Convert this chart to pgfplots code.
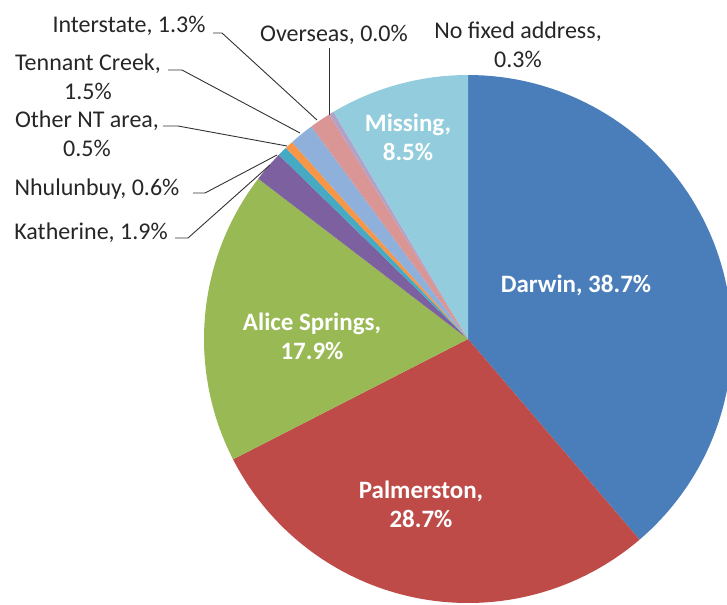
\documentclass[border=0pt]{standalone}
\usepackage{pgfplots}
\pgfplotsset{compat=1.18}
\usepackage{fontspec}
\setmainfont{Carlito}

% slice colours (Office 2007 palette)
\definecolor{cDarwin}{HTML}{4A7EBB}
\definecolor{cPalm}{HTML}{BE4B48}
\definecolor{cAlice}{HTML}{98B954}
\definecolor{cKath}{HTML}{7D60A0}
\definecolor{cNhul}{HTML}{46AAC5}
\definecolor{cOther}{HTML}{F79646}
\definecolor{cTenn}{HTML}{8EB0DB}
\definecolor{cInter}{HTML}{D99694}
\definecolor{cOver}{HTML}{C3D69B}
\definecolor{cNFA}{HTML}{B3A2C7}
\definecolor{cMiss}{HTML}{93CDDD}

\tikzset{
  outlab/.style={font=\fontsize{24bp}{29bp}\selectfont, align=center, inner sep=0pt, text=black!85},
  inlab/.style={font=\bfseries\fontsize{25bp}{29bp}\selectfont, align=center, inner sep=0pt, text=white},
  leader/.style={black!80, line width=0.9bp},
}

% pie geometry, in pixel units of the picture
\def\cx{468}\def\cy{339}\def\rr{264}\def\total{99.9}
\pgfmathsetmacro\kdeg{360/\total}
\xdef\cum{0}
\newcommand\pieslice[2]{% value, colour
  \pgfmathsetmacro\angA{90-\cum*\kdeg}
  \pgfmathsetmacro\angB{90-(\cum+#1)*\kdeg}
  \edef\temp{\noexpand\addplot[draw=none, fill=#2, domain=\angB:\angA, samples=90]
    ({\cx+\rr*cos(x)}, {\cy-\rr*sin(x)}) -- (axis cs:\cx,\cy) -- cycle;}
  \temp
  \pgfmathsetmacro\newcum{\cum+#1}
  \xdef\cum{\newcum}
}

\begin{document}
\begin{tikzpicture}
\begin{axis}[
    width=727bp, height=605bp, scale only axis,
    xmin=0, xmax=727, ymin=0, ymax=605, y dir=reverse,
    hide axis, clip=true,
  ]
  \pieslice{38.7}{cDarwin}
  \pieslice{28.7}{cPalm}
  \pieslice{17.9}{cAlice}
  \pieslice{1.9}{cKath}
  \pieslice{0.6}{cNhul}
  \pieslice{0.5}{cOther}
  \pieslice{1.5}{cTenn}
  \pieslice{1.3}{cInter}
  \pgfmathsetmacro\newcum{\cum+0.0}\xdef\cum{\newcum}% Overseas, 0.0
  \pieslice{0.3}{cNFA}
  \pieslice{8.5}{cMiss}

  % labels inside slices
  \node[inlab] at (axis cs:576,285) {Darwin, 38.7\%};
  \node[inlab] at (axis cs:421,504) {Palmerston,\\28.7\%};
  \node[inlab] at (axis cs:312,336) {Alice Springs,\\17.9\%};
  \node[inlab] at (axis cs:408,137) {Missing,\\8.5\%};

  % labels outside with leader lines
  \node[outlab] at (axis cs:129,26) {Interstate, 1.3\%};
  \node[outlab] at (axis cs:334,35) {Overseas, 0.0\%};
  \node[outlab] at (axis cs:518,45) {No fixed address,\\0.3\%};
  \node[outlab] at (axis cs:88,77) {Tennant Creek,\\1.5\%};
  \node[outlab] at (axis cs:87,134) {Other NT area,\\0.5\%};
  \node[outlab] at (axis cs:97,189) {Nhulunbuy, 0.6\%};
  \node[outlab] at (axis cs:91,233) {Katherine, 1.9\%};

  \draw[leader] (axis cs:213,33) -- (axis cs:222,33) -- (axis cs:317,120);
  \draw[leader] (axis cs:329,48) -- (axis cs:329,115);
  \draw[leader] (axis cs:168,70) -- (axis cs:182,70) -- (axis cs:300,133);
  \draw[leader] (axis cs:163,126) -- (axis cs:178,126) -- (axis cs:287,146);
  \draw[leader] (axis cs:193,193) -- (axis cs:205,193) -- (axis cs:277,155);
  \draw[leader] (axis cs:175,238) -- (axis cs:188,238) -- (axis cs:270,165);
\end{axis}
\pgfresetboundingbox
\path[use as bounding box] (current axis.south west) rectangle (current axis.north east);
\end{tikzpicture}
\end{document}
